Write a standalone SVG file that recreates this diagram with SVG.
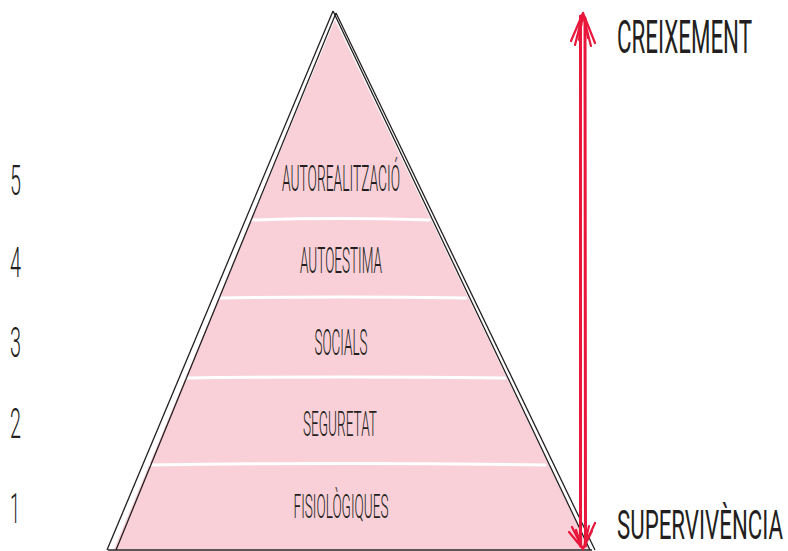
<svg xmlns="http://www.w3.org/2000/svg" width="788" height="551" viewBox="0 0 788 551">
  <style>
    .label { font-family: Roboto, "Liberation Sans", sans-serif; font-weight: 300; fill: #231f20; text-anchor: middle; }
    .num { font-family: Roboto, "Liberation Sans", sans-serif; font-weight: 300; fill: #231f20; font-size: 43px; }
    .side { font-family: Roboto, "Liberation Sans", sans-serif; font-weight: 400; fill: #231f20; }
    .band { stroke: #ffffff; stroke-width: 3; fill: none; stroke-linecap: round; }
    .edge { stroke: #231f20; stroke-width: 1.3; fill: none; }
    .red { stroke: #e8173b; fill: none; stroke-linecap: round; }
  </style>
  <rect width="788" height="551" fill="#ffffff"/>

  <!-- pyramid body -->
  <g id="pyramid">
    <polygon points="335,20 589,549 114,549" fill="#f9d0d8"/>
    <path class="band" d="M251,220 Q340,217 429,220"/>
    <path class="band" d="M219,298 Q340,296 466,298"/>
    <path class="band" d="M186,378 Q345,376 505,378"/>
    <path class="band" d="M150,465 Q350,462 545,465"/>
    <path class="edge" d="M333,11 L107,550"/>
    <path class="edge" d="M336,13 L116,550"/>
    <path class="edge" d="M333,11 L590,550"/>
    <path class="edge" d="M336,13 L595,550"/>
    <path d="M108,550 L592,550" stroke="#231f20" stroke-width="1.6"/>
  </g>

  <!-- level labels (drawn at half width for a condensed look) -->
  <g id="level-5" transform="scale(0.5,1)"><text class="label" x="682" y="191" font-size="37" textLength="236" lengthAdjust="spacingAndGlyphs">AUTOREALITZACIÓ</text></g>
  <g id="level-4" transform="scale(0.5,1)"><text class="label" x="682" y="273" font-size="37" textLength="164" lengthAdjust="spacingAndGlyphs">AUTOESTIMA</text></g>
  <g id="level-3" transform="scale(0.5,1)"><text class="label" x="682" y="355" font-size="37" textLength="106" lengthAdjust="spacingAndGlyphs">SOCIALS</text></g>
  <g id="level-2" transform="scale(0.5,1)"><text class="label" x="680" y="436" font-size="35" textLength="148" lengthAdjust="spacingAndGlyphs">SEGURETAT</text></g>
  <g id="level-1" transform="scale(0.5,1)"><text class="label" x="682" y="518" font-size="34" textLength="190" lengthAdjust="spacingAndGlyphs">FISIOLÒGIQUES</text></g>

  <!-- level numbers -->
  <g id="numbers" transform="scale(0.5,1)">
    <text class="num" x="20" y="195" textLength="22" lengthAdjust="spacingAndGlyphs">5</text>
    <text class="num" x="20" y="277" textLength="22" lengthAdjust="spacingAndGlyphs">4</text>
    <text class="num" x="20" y="357" textLength="22" lengthAdjust="spacingAndGlyphs">3</text>
    <text class="num" x="20" y="438" textLength="22" lengthAdjust="spacingAndGlyphs">2</text>
    <text class="num" x="20" y="523" textLength="20" lengthAdjust="spacingAndGlyphs">1</text>
  </g>

  <!-- connectors: double-headed growth arrow -->
  <g id="connectors">
    <path class="red" stroke-width="3" d="M580.5,16 L580.5,546"/>
    <path class="red" stroke-width="3" d="M585,18 L585.5,546"/>
    <path class="red" stroke-width="2.2" d="M583,13 L571,41 M583,13 L575,45 M583,14 L579,40 M583,13 L595,43 M583,15 L591,46 M584,16 L588,38"/>
    <path class="red" stroke-width="2.2" d="M583,549 L572,527 M583,549 L569,532 M582,548 L576,530 M583,549 L595,523 M583,549 L592,531 M584,547 L589,526"/>
  </g>

  <!-- axis captions (condensed) -->
  <g id="caption-top" transform="scale(0.5,1)"><text class="side" x="1234" y="53" font-size="46" textLength="270" lengthAdjust="spacingAndGlyphs">CREIXEMENT</text></g>
  <g id="caption-bottom" transform="scale(0.43,1)"><text class="side" x="1435" y="539" font-size="41" textLength="386" lengthAdjust="spacingAndGlyphs">SUPERVIVÈNCIA</text></g>
</svg>
